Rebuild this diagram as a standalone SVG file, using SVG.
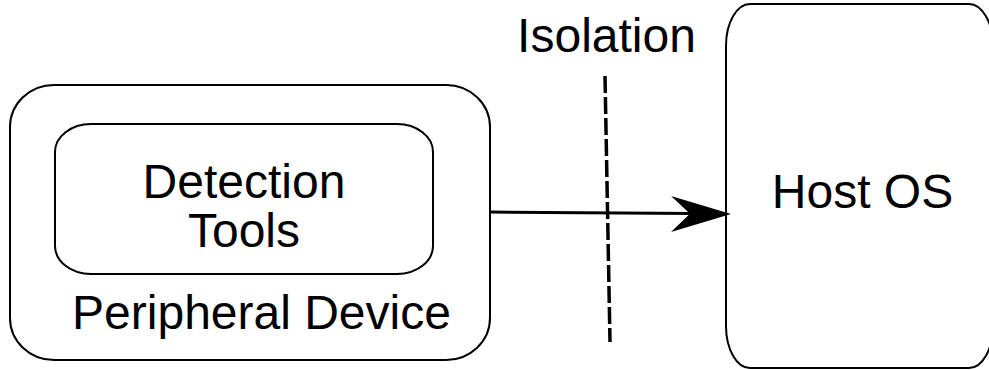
<svg xmlns="http://www.w3.org/2000/svg" width="989" height="370" viewBox="0 0 989 370">
  <style>
    .box { fill: #ffffff; stroke: #000000; stroke-width: 2; }
    .label { font-family: "Liberation Sans", Arial, sans-serif; font-size: 48px; fill: #000000; text-anchor: middle; }
    .link { fill: none; stroke: #000000; stroke-width: 3; }
    .divider { fill: none; stroke: #000000; stroke-width: 3.5; stroke-dasharray: 17 4; }
  </style>
  <rect x="0" y="0" width="989" height="370" fill="#ffffff"/>

  <g id="peripheral-device">
    <rect class="box" x="10" y="85" width="480" height="275" rx="44" ry="42"/>
    <text class="label" x="261.5" y="329">Peripheral Device</text>
  </g>

  <g id="detection-tools">
    <rect class="box" x="55" y="124" width="378" height="150" rx="36" ry="28"/>
    <text class="label" x="244" y="198">Detection</text>
    <text class="label" x="244" y="247">Tools</text>
  </g>

  <g id="host-os">
    <rect class="box" x="726" y="4" width="267" height="364" rx="24" ry="42"/>
    <text class="label" x="862.5" y="208">Host OS</text>
  </g>

  <g id="isolation">
    <text class="label" x="606.5" y="52">Isolation</text>
    <line class="divider" x1="605" y1="76" x2="610" y2="342"/>
  </g>

  <g id="connectors">
    <line class="link" x1="490" y1="212" x2="695" y2="213.5"/>
    <path d="M731 214 L671 196 L690 213.7 L671 232 Z" fill="#000000"/>
  </g>
</svg>
